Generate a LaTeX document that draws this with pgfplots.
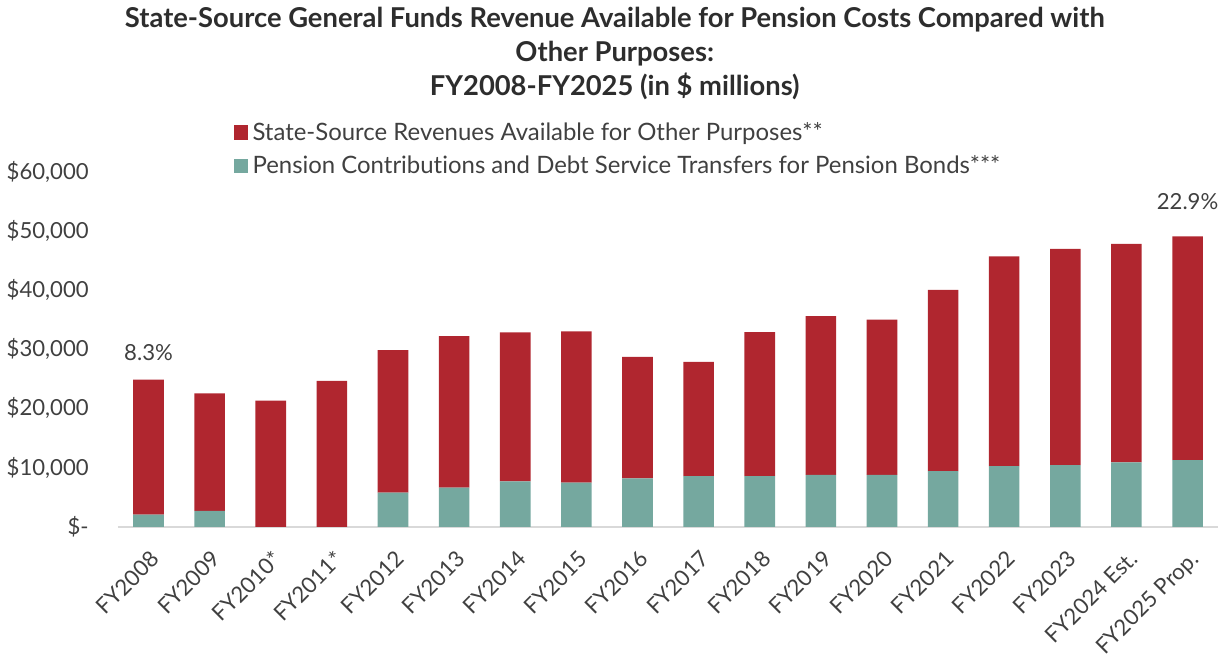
\documentclass[border=0pt]{standalone}
\usepackage{fontspec}
\setmainfont[Ligatures=NoCommon]{Lato}
\usepackage{pgfplots}
\pgfplotsset{compat=1.18}
\definecolor{otherRed}{HTML}{B0262F}
\definecolor{pensionGreen}{HTML}{75A89F}
\definecolor{txt}{HTML}{404040}
\definecolor{axisGray}{HTML}{D9D9D9}

% values in $ millions
\pgfplotstableread{
x pension other
0  2050  22820
1  2670  19880
2  0     21300
3  0     24650
4  5780  24090
5  6630  25570
6  7650  25210
7  7480  25550
8  8160  20570
9  8550  19330
10 8550  24350
11 8770  26830
12 8770  26230
13 9400  30650
14 10250 35450
15 10420 36550
16 10880 36920
17 11270 37790
}\datatable

\begin{document}
\begin{tikzpicture}
\begin{axis}[
  scale only axis, width=547pt, height=176.5pt,
  ybar stacked, bar width=0.5,
  xmin=-0.5, xmax=17.5, ymin=0, ymax=60000,
  scaled y ticks=false,
  xtick=data,
  xticklabels={FY2008,FY2009,FY2010*,FY2011*,FY2012,FY2013,FY2014,FY2015,FY2016,FY2017,FY2018,FY2019,FY2020,FY2021,FY2022,FY2023,FY2024 Est.,FY2025 Prop.},
  x tick label style={xshift=0.5pt, yshift=-11pt, rotate=45, anchor=north east, font=\fontsize{11}{12}\selectfont, text=txt, inner sep=0pt},
  ytick={0,10000,20000,30000,40000,50000,60000},
  yticklabels={\$-,\$10{,}000,\$20{,}000,\$30{,}000,\$40{,}000,\$50{,}000,\$60{,}000},
  y tick label style={font=\fontsize{11}{13}\selectfont, text=txt, xshift=-11pt},
  major tick length=0pt,
  axis x line*=bottom, axis y line*=left,
  axis line style={draw=none},
  clip=false,
  legend style={at={(0.1,1.164)}, anchor=north west, draw=none, fill=none,
    font=\fontsize{11.9}{14}\selectfont, text=txt, row sep=2pt,
    legend cell align=left},
  legend image code/.code={\fill[#1] (0pt,-3.5pt) rectangle (7pt,3.5pt);},
  reverse legend,
]
\addplot[fill=pensionGreen, draw=none] table[x=x, y=pension] {\datatable};
\addlegendentry{Pension Contributions and Debt Service Transfers for Pension Bonds***}
\addplot[fill=otherRed, draw=none] table[x=x, y=other] {\datatable};
\addlegendentry{State-Source Revenues Available for Other Purposes**}
\draw[axisGray, line width=1.2pt] (rel axis cs:0,0) -- (rel axis cs:1,0);
\node[text=txt, font=\fontsize{11}{13}\selectfont] at (axis cs:0,29400) {8.3\%};
\node[text=txt, font=\fontsize{11}{13}\selectfont] at (axis cs:17,54900) {22.9\%};
\node[anchor=north, align=center, font=\bfseries\fontsize{13.6}{17}\selectfont, text=txt!70!black]
  at (rel axis cs:0.4516,1.485) {State-Source General Funds Revenue Available for Pension Costs Compared with\\Other Purposes:\\FY2008-FY2025 (in \$ millions)};
\end{axis}
\end{tikzpicture}
\end{document}
